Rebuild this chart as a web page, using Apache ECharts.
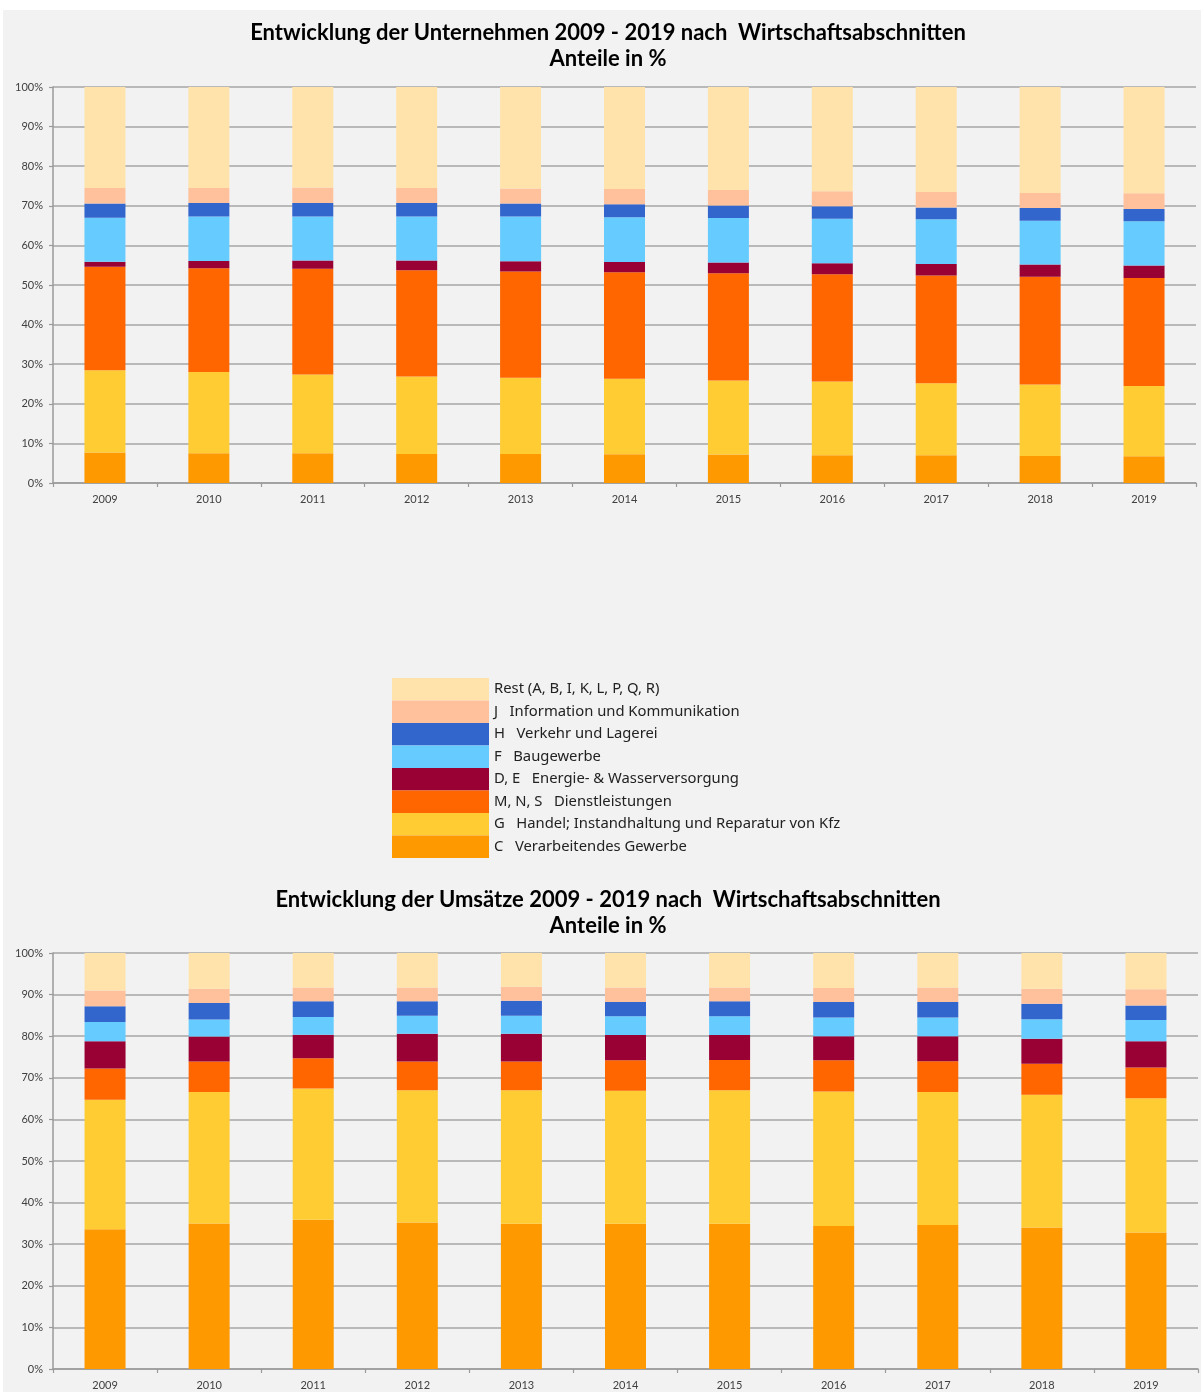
<!DOCTYPE html>
<html>
<head>
<meta charset="utf-8">
<script src="https://cdn.jsdelivr.net/npm/echarts@6/dist/echarts.min.js"></script>
<style>
  html, body { margin: 0; padding: 0; background: #ffffff; }
  #c { position: absolute; left: 3px; top: 10px; width: 1198px; height: 1382px; }
</style>
</head>
<body>
<div id="c"></div>
<script>
// ---- Data ----
var years = ['2009','2010','2011','2012','2013','2014','2015','2016','2017','2018','2019'];
var yTicks = [0,10,20,30,40,50,60,70,80,90,100];

var seriesNames = [
  'C   Verarbeitendes Gewerbe',
  'G   Handel; Instandhaltung und Reparatur von Kfz',
  'M, N, S   Dienstleistungen',
  'D, E   Energie- & Wasserversorgung',
  'F   Baugewerbe',
  'H   Verkehr und Lagerei',
  'J   Information und Kommunikation',
  'Rest (A, B, I, K, L, P, Q, R)'
];
var seriesColors = ['#ff9900','#ffcc33','#ff6600','#990033','#66ccff','#3366cc','#ffc19b','#ffe3aa'];

// Unternehmen (Anteile in %)
var u_C    = [7.7, 7.5, 7.5, 7.3, 7.3, 7.25, 7.2, 7.0, 7.0, 6.8, 6.75];
var u_G    = [20.8, 20.5, 19.9, 19.6, 19.3, 19.05, 18.7, 18.6, 18.2, 18.05, 17.75];
var u_MNS  = [26.1, 26.2, 26.7, 26.8, 26.8, 26.9, 27.05, 27.1, 27.2, 27.25, 27.25];
var u_DE   = [1.3, 1.85, 2.1, 2.5, 2.6, 2.6, 2.75, 2.8, 2.9, 3.05, 3.2];
var u_F    = [11.1, 11.25, 11.1, 11.1, 11.3, 11.3, 11.2, 11.2, 11.3, 11.1, 11.15];
var u_H    = [3.6, 3.4, 3.4, 3.4, 3.25, 3.3, 3.2, 3.2, 3.0, 3.2, 3.1];
var u_J    = [3.9, 3.8, 3.95, 3.8, 3.85, 3.85, 3.9, 3.75, 3.9, 3.8, 3.95];
var u_Rest = [25.5, 25.5, 25.35, 25.5, 25.6, 25.75, 26.0, 26.35, 26.5, 26.75, 26.85];

// Umsätze (Anteile in %)
var s_C    = [33.6, 35.0, 35.85, 35.2, 34.9, 34.9, 34.9, 34.4, 34.6, 34.0, 32.8];
var s_G    = [31.1, 31.6, 31.55, 31.8, 32.1, 32.0, 32.1, 32.3, 32.0, 31.9, 32.3];
var s_MNS  = [7.55, 7.3, 7.3, 6.9, 6.9, 7.3, 7.3, 7.5, 7.4, 7.5, 7.4];
var s_DE   = [6.55, 6.0, 5.65, 6.7, 6.7, 6.1, 6.0, 5.8, 6.0, 6.0, 6.3];
var s_F    = [4.6, 4.1, 4.25, 4.3, 4.3, 4.5, 4.5, 4.5, 4.5, 4.7, 5.1];
var s_H    = [3.8, 4.0, 3.8, 3.5, 3.6, 3.4, 3.6, 3.7, 3.7, 3.7, 3.5];
var s_J    = [3.8, 3.4, 3.3, 3.3, 3.4, 3.5, 3.3, 3.4, 3.5, 3.6, 3.9];
var s_Rest = [9.0, 8.6, 8.3, 8.3, 8.1, 8.3, 8.3, 8.4, 8.3, 8.6, 8.7];

var unternehmen = [u_C, u_G, u_MNS, u_DE, u_F, u_H, u_J, u_Rest];
var umsaetze    = [s_C, s_G, s_MNS, s_DE, s_F, s_H, s_J, s_Rest];

// ---- Chart ----
var chart = echarts.init(document.getElementById('c'), null, { renderer: 'canvas' });

var gridLineColor = '#a6a6a6';
var labelColor = '#404040';
var labelFont = 'Lato';

function xAxisDef(gridIndex) {
  return {
    type: 'category', gridIndex: gridIndex, data: years, boundaryGap: true,
    axisLine: { show: true, lineStyle: { color: '#9a9a9a', width: 1.5 } },
    axisTick: { show: true, alignWithLabel: false, length: 4, lineStyle: { color: '#9a9a9a', width: 1.2 } },
    axisLabel: { color: labelColor, fontSize: 11, fontFamily: labelFont, margin: 11 },
    splitLine: { show: false }
  };
}
function yAxisDef(gridIndex) {
  return {
    type: 'value', gridIndex: gridIndex, min: 0, max: 100, interval: 10,
    axisLine: { show: true, lineStyle: { color: '#9a9a9a', width: 1.5 } },
    axisTick: { show: true, length: 4, lineStyle: { color: '#9a9a9a', width: 1.2 } },
    axisLabel: { color: labelColor, fontSize: 11, fontFamily: labelFont, margin: 10,
      formatter: function (v) { return yTicks.indexOf(v) >= 0 ? v + '%' : ''; } },
    splitLine: { show: true, lineStyle: { color: gridLineColor, width: 1.5 } }
  };
}

var series = [];
[unternehmen, umsaetze].forEach(function (set, gi) {
  set.forEach(function (vals, si) {
    series.push({
      name: seriesNames[si], type: 'bar', stack: 'stack' + gi,
      xAxisIndex: gi, yAxisIndex: gi, data: vals, barWidth: 41,
      itemStyle: { color: seriesColors[si] },
      emphasis: { disabled: true }
    });
  });
});

var legendData = seriesNames.slice().reverse();

chart.setOption({
  animation: false,
  backgroundColor: '#f2f2f2',
  title: [
    {
      text: 'Entwicklung der Unternehmen 2009 - 2019 nach  Wirtschaftsabschnitten\nAnteile in %',
      left: 600, top: 5, textAlign: 'center', padding: 5,
      textStyle: { fontFamily: 'Lato', fontWeight: 'bold', fontSize: 22, color: '#000', lineHeight: 26 }
    },
    {
      text: 'Entwicklung der Umsätze 2009 - 2019 nach  Wirtschaftsabschnitten\nAnteile in %',
      left: 600, top: 872, textAlign: 'center', padding: 5,
      textStyle: { fontFamily: 'Lato', fontWeight: 'bold', fontSize: 22, color: '#000', lineHeight: 26 }
    }
  ],
  legend: {
    data: legendData, orient: 'vertical', left: 389, top: 668, padding: 0,
    itemWidth: 97, itemHeight: 22.5, itemGap: 0, icon: 'rect',
    selectedMode: false,
    textStyle: { fontFamily: 'Noto Sans', fontSize: 14.8, color: '#222', padding: [3, 0, 0, 0] }
  },
  grid: [
    { left: 50, top: 77, width: 1143, height: 396 },
    { left: 50, top: 943, width: 1145, height: 416 }
  ],
  xAxis: [xAxisDef(0), xAxisDef(1)],
  yAxis: [yAxisDef(0), yAxisDef(1)],
  series: series
});
</script>
</body>
</html>
